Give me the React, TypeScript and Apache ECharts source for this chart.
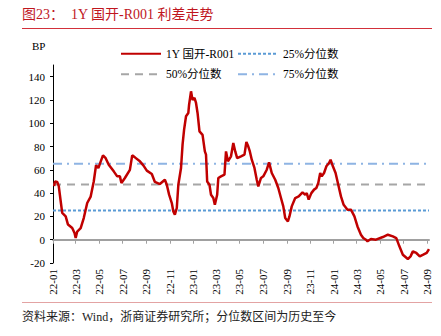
import React, { useEffect, useRef } from "react";
import * as echarts from "echarts";

const dates: string[] = [
  "2022-01-04","2022-01-06","2022-01-12","2022-01-16","2022-01-21","2022-01-25","2022-02-03","2022-02-09",
  "2022-02-20","2022-02-26","2022-03-01","2022-03-05","2022-03-14","2022-03-22","2022-03-31","2022-04-09",
  "2022-04-17","2022-04-23","2022-04-29","2022-05-05","2022-05-11","2022-05-18","2022-05-26","2022-06-08",
  "2022-06-17","2022-06-24","2022-06-28","2022-07-07","2022-07-20","2022-07-26","2022-08-02","2022-08-15",
  "2022-08-24","2022-09-02","2022-09-15","2022-09-23","2022-10-06","2022-10-19","2022-10-24","2022-10-30",
  "2022-11-06","2022-11-10","2022-11-14","2022-11-19","2022-11-23","2022-11-30","2022-12-04","2022-12-08",
  "2022-12-13","2022-12-19","2022-12-21","2022-12-26","2022-12-30","2023-01-04","2023-01-08","2023-01-12",
  "2023-01-17","2023-01-25","2023-01-31","2023-02-03","2023-02-06","2023-02-12","2023-02-16","2023-02-22",
  "2023-02-26","2023-03-04","2023-03-07","2023-03-14","2023-03-23","2023-03-27","2023-04-01","2023-04-09",
  "2023-04-15","2023-04-20","2023-04-25","2023-05-05","2023-05-14","2023-05-19","2023-05-24","2023-05-28",
  "2023-06-02","2023-06-09","2023-06-15","2023-06-19","2023-06-26","2023-07-02","2023-07-11","2023-07-17",
  "2023-07-24","2023-08-02","2023-08-10","2023-08-17","2023-08-23","2023-08-28","2023-09-04","2023-09-08",
  "2023-09-14","2023-09-23","2023-10-02","2023-10-12","2023-10-19","2023-10-23","2023-10-28","2023-11-04",
  "2023-11-11","2023-11-17","2023-11-22","2023-11-27","2023-12-01","2023-12-07","2023-12-13","2023-12-20",
  "2023-12-24","2023-12-30","2024-01-06","2024-01-13","2024-01-20","2024-01-27","2024-02-06","2024-02-15",
  "2024-02-24","2024-03-03","2024-03-12","2024-03-18","2024-03-25","2024-03-29","2024-04-07","2024-04-20",
  "2024-05-08","2024-05-21","2024-06-03","2024-06-12","2024-06-20","2024-06-29","2024-07-12","2024-07-19",
  "2024-07-25","2024-08-03","2024-08-12","2024-08-21","2024-08-30","2024-09-05",
];

const spread: number[] = [
  46, 50, 49.5, 46, 33, 23, 20, 13,
  10, 5.7, 1.5, 7, 10, 18.6, 31.5, 37,
  50, 64, 61.5, 67, 72.4, 70, 64.4, 58.7,
  54.4, 54.4, 48.7, 53, 60, 72.4, 70.7, 67.3,
  63.8, 59.3, 56.4, 49.6, 47.8, 51.5, 47.2, 38.7,
  31.5, 24.3, 21.5, 27.2, 47.2, 61.6, 81.6, 94.5,
  106, 108.8, 116, 127.4, 120, 121.7, 117.4, 108.8,
  93, 90, 75.8, 73, 50, 47.2, 38.6, 35.8,
  30, 38.6, 53, 54.4, 55.8, 75.8, 67.3, 71.6,
  83, 75.8, 70.1, 71.6, 73, 84, 80, 75.8,
  68.7, 61.6, 51.5, 45.8, 53, 54.4, 60.1, 66.4,
  57.3, 51.5, 44.4, 35.8, 28.6, 18.6, 15.7, 20,
  28.6, 35.8, 37.2, 40.6, 38.6, 40, 34.4, 40,
  43, 44.4, 48.7, 57.3, 54.4, 57.3, 63, 65.9,
  68.7, 63, 57.3, 47.2, 37.2, 30, 25.8, 25.8,
  20, 11.4, 4.3, 1.5, 0, -1.4, 0.6, 0,
  2.3, 4.3, 2.9, 1.4, -5.7, -12.9, -16.6, -14.3,
  -10, -11.4, -14.3, -12.9, -11.4, -8,
];

const q25 = 25.1;
const q50 = 47.4;
const q75 = 65.3;

const xStart = "2022-01-01";
const xEnd = "2024-09-05";
const xTickMonths: string[] = [
  "2022-01-01","2022-03-01","2022-05-01","2022-07-01","2022-09-01","2022-11-01",
  "2023-01-01","2023-03-01","2023-05-01","2023-07-01","2023-09-01","2023-11-01",
  "2024-01-01","2024-03-01","2024-05-01","2024-07-01","2024-09-01",
];
const yTicks: number[] = [-20, 0, 20, 40, 60, 80, 100, 120, 140];

const SERIES_MAIN = "1Y 国开-R001";
const SERIES_25 = "25%分位数";
const SERIES_50 = "50%分位数";
const SERIES_75 = "75%分位数";

const DAY = 86400000;
const toTs = (s: string) => {
  const [y, m, d] = s.split("-").map(Number);
  return Date.UTC(y, m - 1, d);
};
const T0 = toTs(xStart);
const toDay = (s: string) => Math.round((toTs(s) - T0) / DAY);

const FONT = "'Liberation Serif', 'Times New Roman', 'Noto Sans CJK SC', serif";

export default function App() {
  const ref = useRef<HTMLDivElement>(null);
  useEffect(() => {
    if (!ref.current) return;
    const chart = echarts.init(ref.current, undefined, { renderer: "svg" });
    const dEnd = toDay(xEnd);
    const tickDays = xTickMonths.map(toDay);
    const mainData = dates.map((d, i) => [toDay(d), spread[i]]);
    const flat = (v: number) => [[0, v], [dEnd, v]];
    const fmt = (v: number) => {
      const dt = new Date(T0 + v * DAY);
      const yy = String(dt.getUTCFullYear() % 100).padStart(2, "0");
      const mm = String(dt.getUTCMonth() + 1).padStart(2, "0");
      return `${yy}-${mm}`;
    };
    const legendText = { fontFamily: FONT, fontSize: 11.5, color: "#000" };
    const legendBase = {
      orient: "vertical",
      top: 43,
      itemWidth: 40,
      itemHeight: 14,
      itemGap: 9,
      itemStyle: { opacity: 0 },
      textStyle: legendText,
    };
    chart.setOption({
      animation: false,
      textStyle: { fontFamily: FONT },
      grid: { left: 53, right: 12, top: 65, bottom: 73, containLabel: false },
      legend: [
        { ...legendBase, left: 115, data: [SERIES_MAIN, SERIES_50] },
        { ...legendBase, left: 232, data: [SERIES_25, SERIES_75] },
      ],
      xAxis: [
        {
          type: "value",
          min: 0,
          max: dEnd,
          axisLine: { onZero: true, lineStyle: { color: "#A0A0A0", width: 2 } },
          axisTick: {
            show: true,
            length: 4,
            lineStyle: { color: "#A0A0A0", width: 1 },
            customValues: tickDays,
          },
          axisLabel: { show: false },
          splitLine: { show: false },
        },
        {
          type: "value",
          min: 0,
          max: dEnd,
          position: "bottom",
          axisLine: { show: false, onZero: false },
          axisTick: { show: false },
          axisLabel: {
            show: true,
            rotate: 90,
            margin: 6,
            fontFamily: FONT,
            fontSize: 11,
            color: "#000",
            customValues: tickDays,
            formatter: (v: number) => fmt(v),
          },
          splitLine: { show: false },
        },
      ],
      yAxis: {
        type: "value",
        min: -20,
        max: 150,
        interval: 10,
        axisLine: { show: true, lineStyle: { color: "#000", width: 1 } },
        axisTick: { show: true, length: 3, lineStyle: { color: "#000" }, customValues: yTicks },
        axisLabel: {
          fontFamily: FONT,
          fontSize: 11,
          color: "#000",
          margin: 8,
          customValues: yTicks,
        },
        splitLine: { show: false },
      },
      series: [
        {
          name: SERIES_25,
          type: "line",
          symbol: "none",
          data: flat(q25),
          lineStyle: { color: "#5B9BD5", width: 2, type: [3, 2] },
          itemStyle: { color: "#5B9BD5" },
          z: 2,
        },
        {
          name: SERIES_50,
          type: "line",
          symbol: "none",
          data: flat(q50),
          lineStyle: { color: "#A6A6A6", width: 2, type: [8, 6] },
          itemStyle: { color: "#A6A6A6" },
          z: 2,
        },
        {
          name: SERIES_75,
          type: "line",
          symbol: "none",
          data: flat(q75),
          lineStyle: { color: "#8EB4E3", width: 2, type: [9, 5, 2, 5] },
          itemStyle: { color: "#8EB4E3" },
          z: 2,
        },
        {
          name: SERIES_MAIN,
          type: "line",
          symbol: "none",
          data: mainData,
          lineStyle: { color: "#C00000", width: 2.5 },
          itemStyle: { color: "#C00000" },
          z: 5,
        },
      ],
      graphic: [
        {
          type: "text",
          left: 22,
          top: 7,
          style: {
            text: "图23：  1Y 国开-R001 利差走势",
            fill: "#C0161E",
            font: `14px ${FONT}`,
          },
        },
        {
          type: "line",
          shape: { x1: 22, y1: 28.5, x2: 432, y2: 28.5 },
          style: { stroke: "#D2303A", lineWidth: 1 },
        },
        {
          type: "text",
          left: 32,
          top: 40,
          style: { text: "BP", fill: "#000", font: `11px ${FONT}` },
        },
        {
          type: "line",
          shape: { x1: 22, y1: 302.5, x2: 432, y2: 302.5 },
          style: { stroke: "#E3A3A3", lineWidth: 1 },
        },
        {
          type: "text",
          left: 22,
          top: 311,
          style: {
            text: "资料来源：Wind，浙商证券研究所；分位数区间为历史至今",
            fill: "#222",
            font: `12px ${FONT}`,
          },
        },
      ],
    });
    return () => chart.dispose();
  }, []);
  return (
    <div
      ref={ref}
      style={{ position: "fixed", left: 0, top: 0, width: 441, height: 336, background: "#fff" }}
    />
  );
}
